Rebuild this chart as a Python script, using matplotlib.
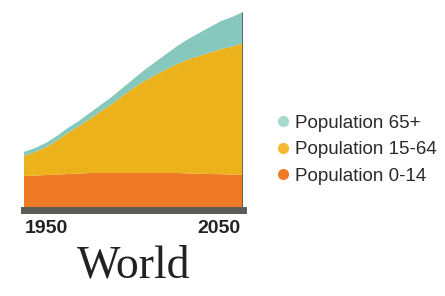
import matplotlib
matplotlib.use("Agg")
import matplotlib.pyplot as plt
from matplotlib.lines import Line2D
import numpy as np

years = [1950, 1955, 1960, 1965, 1970, 1975, 1980, 1985, 1990, 1995, 2000,
         2005, 2010, 2015, 2020, 2025, 2030, 2035, 2040, 2045, 2050]
pop_0_14 = [1.55, 1.57, 1.60, 1.62, 1.65, 1.67, 1.70, 1.70, 1.70, 1.70, 1.70,
            1.70, 1.70, 1.70, 1.70, 1.68, 1.66, 1.65, 1.64, 1.62, 1.60]
pop_15_64 = [1.00, 1.18, 1.38, 1.70, 2.05, 2.36, 2.70, 3.07, 3.44, 3.85, 4.25,
             4.60, 4.90, 5.18, 5.45, 5.70, 5.89, 6.07, 6.26, 6.40, 6.60]
pop_65 = [0.20, 0.20, 0.22, 0.23, 0.25, 0.27, 0.30, 0.33, 0.36, 0.40, 0.45,
          0.55, 0.65, 0.77, 0.90, 1.02, 1.15, 1.28, 1.40, 1.48, 1.55]
labels = ["Population 65+", "Population 15-64", "Population 0-14"]
tick_labels = ["1950", "2050"]
title = "World"

c_young = "#EF7A26"
c_work = "#ECB21C"
c_old = "#86C8BE"
leg_colors = ["#A6D8CC", "#F6B82E", "#F07A2A"]

W, H = 445, 296
fig = plt.figure(figsize=(W / 100, H / 100), dpi=100)
fig.patch.set_facecolor("white")

ax = fig.add_axes([24 / W, (H - 207) / H, 219 / W, 200 / H])
ax.stackplot(years, pop_0_14, pop_15_64, pop_65,
             colors=[c_young, c_work, c_old], linewidth=0)
total = np.array(pop_0_14) + np.array(pop_15_64) + np.array(pop_65)
ax.vlines(years[-1], 0, total[-1], color="#55605a", lw=2)
ax.set_xlim(years[0], years[-1])
ax.set_ylim(0, 10)
for s in ["top", "left", "right"]:
    ax.spines[s].set_visible(False)
ax.spines["bottom"].set_color("#5a5b55")
ax.spines["bottom"].set_linewidth(5)
ax.spines["bottom"].set_position(("outward", 2.5))
ax.set_yticks([])
ax.set_xticks([])
ax.patch.set_alpha(0)

# year labels
fig.text(25 / W, (H - 233) / H, tick_labels[0], ha="left", va="baseline",
         fontsize=14, fontweight="bold", family="Liberation Sans", color="#222222")
fig.text(241 / W, (H - 233) / H, tick_labels[1], ha="right", va="baseline",
         fontsize=14, fontweight="bold", family="Liberation Sans", color="#222222")

# title
fig.text(133.5 / W, (H - 277) / H, title, ha="center", va="baseline",
         fontsize=33, family="Liberation Serif", color="#222222")

# legend
rows_marker = [121, 147.5, 174]
rows_base = [128, 154.5, 181]
for lab, col, ym, yb in zip(labels, leg_colors, rows_marker, rows_base):
    fig.add_artist(Line2D([283 / W], [(H - ym) / H], marker="o", markersize=7,
                          color=col, linestyle="", transform=fig.transFigure))
    fig.text(295 / W, (H - yb) / H, lab, ha="left", va="baseline",
             fontsize=13.5, family="Liberation Sans", color="#2a2a2a")

fig.savefig("out.png", dpi=100, facecolor="white")
